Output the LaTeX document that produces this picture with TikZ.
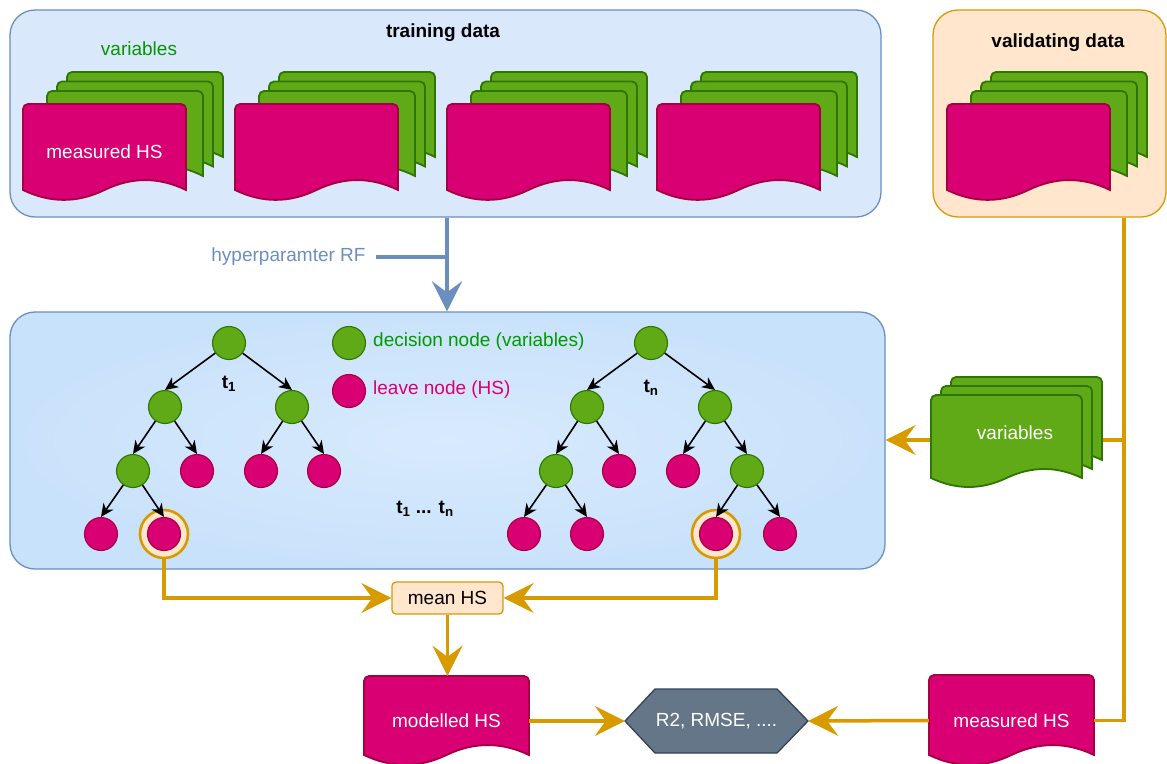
\documentclass[tikz,border=0pt]{standalone}
\usepackage{fontspec}
\setmainfont{Liberation Sans}
\usetikzlibrary{arrows.meta,calc}

\definecolor{trainfill}{HTML}{DAE8FC}
\definecolor{blueline}{HTML}{6C8EBF}
\definecolor{valfill}{HTML}{FFE6CC}
\definecolor{orangeline}{HTML}{D79B00}
\definecolor{leaffill}{HTML}{D80073}
\definecolor{leafline}{HTML}{A50040}
\definecolor{nodefill}{HTML}{60A917}
\definecolor{nodeline}{HTML}{2D7600}
\definecolor{textgreen}{HTML}{009900}
\definecolor{metricfill}{HTML}{647687}
\definecolor{metricline}{HTML}{314354}
\definecolor{treeinner}{HTML}{D8EAFD}
\definecolor{treeouter}{HTML}{C9E2FB}

% document sheet with rounded top and wavy bottom:
% left, top, width, side length, wave depth, style
\newcommand{\docsheet}[6]{%
  \draw[#6] (#1,{#2+#4}) [rounded corners=5pt] -- (#1,#2) -- ({#1+#3},#2) [sharp corners]
    -- ({#1+#3},{#2+#4})
    .. controls ({#1+5*#3/6},{#2+#4-0.6*#5}) and ({#1+2*#3/3},{#2+#4-0.6*#5}) .. ({#1+#3/2},{#2+#4})
    .. controls ({#1+#3/3},{#2+#4+0.6*#5}) and ({#1+#3/6},{#2+#4+0.6*#5}) .. (#1,{#2+#4}) -- cycle;}

% three green variable sheets behind one HS sheet; left and top of the HS sheet
\newcommand{\datastack}[2]{%
  \docsheet{#1+44}{#2-32}{156}{85}{22}{greensheet}
  \docsheet{#1+34}{#2-22.5}{156}{85}{22}{greensheet}
  \docsheet{#1+24}{#2-13}{156}{85}{22}{greensheet}
  \docsheet{#1}{#2}{163}{86}{22}{pinksheet}}

\tikzset{
  txt/.style={font=\fontsize{19}{22}\selectfont, inner sep=0pt},
  boldtxt/.style={font=\fontsize{19}{22}\selectfont\bfseries, inner sep=0pt},
  panel/.style={rounded corners=25pt, line width=1.3pt},
  greensheet/.style={fill=nodefill, draw=nodeline, line width=1.8pt},
  pinksheet/.style={fill=leaffill, draw=leafline, line width=1.8pt},
  decision/.style={circle, minimum size=33pt, inner sep=0pt, fill=nodefill, draw=nodeline, line width=1.1pt},
  leaf/.style={circle, minimum size=33pt, inner sep=0pt, fill=leaffill, draw=leafline, line width=1.1pt},
  pick/.style={circle, minimum size=48pt, inner sep=0pt, fill=valfill, draw=orangeline, line width=2.6pt},
  branch/.style={-{Stealth[length=13pt,width=12pt,inset=4pt]}, line width=1.6pt, black},
  flow/.style={draw=orangeline, line width=3.5pt},
  flowarrow/.style={flow, -{Stealth[length=30pt,width=30pt,inset=11pt]}},
  hyperflow/.style={draw=blueline, line width=4pt},
  hexagon/.style={fill=metricfill, draw=metricline, line width=1.3pt},
}

\begin{document}
\begin{tikzpicture}[x=1pt,y=-1pt]
\useasboundingbox (0,0) rectangle (1167,763);

% ---------- training and validating data ----------
\node[panel, fill=trainfill, draw=blueline, minimum width=871pt, minimum height=207pt] (train) at (445.5,113.5) {};
\node[panel, fill=valfill, draw=orangeline, minimum width=233pt, minimum height=207pt] (val) at (1049.5,113.5) {};
\node[boldtxt] (traintitle) at (443,33) {training data};
\node[boldtxt] (valtitle) at (1058,43) {validating data};
\node[txt, text=textgreen] (varlabel) at (139,49) {variables};

\datastack{23}{104}
\datastack{235}{104}
\datastack{447}{104}
\datastack{657}{104}
\datastack{947}{104}
\node[txt, text=white] (trainhs) at (104.5,152) {measured HS};

% ---------- random forest ----------
\node[panel, draw=blueline, inner color=treeinner, outer color=treeouter,
      minimum width=875pt, minimum height=257pt] (forest) at (447.5,440.5) {};

\node[txt, text=blueline] (hyper) at (288.5,257) {hyperparamter RF};
\coordinate (hx) at (447,257);
\draw[hyperflow] ($(hyper.east)+(10,0)$) -- (hx);
\draw[hyperflow, -{Stealth[length=30pt,width=30pt,inset=11pt]}] (train.south -| hx) -- (forest.north -| hx);

% legend
\node[decision] (legdec) at (349,343) {};
\node[txt, text=textgreen, anchor=west] (legdectxt) at (373,342) {decision node (variables)};
\node[leaf] (legleaf) at (349,391) {};
\node[txt, text=leaffill, anchor=west] (legleaftxt) at (373,390) {leave node (HS)};

% first tree
\node[decision] (a0) at (229,343) {};
\node[decision] (a1) at (165,407) {};
\node[decision] (a2) at (292,407) {};
\node[decision] (a3) at (133,471) {};
\node[leaf] (a4) at (197,471) {};
\node[leaf] (a5) at (261,471) {};
\node[leaf] (a6) at (324,471) {};
\node[leaf] (a7) at (101,534) {};
\node[pick] (r1) at (164,534) {};
\node[leaf] (a8) at (164,534) {};
\foreach \p/\c in {a0/a1,a0/a2,a1/a3,a1/a4,a2/a5,a2/a6,a3/a7,a3/a8}
  \draw[branch] (\p) -- (\c.north);
\node[boldtxt] (t1) at (229,384) {t\textsubscript{1}};

% last tree
\node[decision] (b0) at (651,343) {};
\node[decision] (b1) at (587,407) {};
\node[decision] (b2) at (715,407) {};
\node[decision] (b3) at (556,471) {};
\node[leaf] (b4) at (619,471) {};
\node[leaf] (b5) at (683,471) {};
\node[decision] (b6) at (747,471) {};
\node[leaf] (b7) at (524,534) {};
\node[leaf] (b8) at (587,534) {};
\node[pick] (r2) at (716,534) {};
\node[leaf] (b9) at (716,534) {};
\node[leaf] (b10) at (780,534) {};
\foreach \p/\c in {b0/b1,b0/b2,b1/b3,b1/b4,b2/b5,b2/b6,b3/b7,b3/b8,b6/b9,b6/b10}
  \draw[branch] (\p) -- (\c.north);
\node[boldtxt] (tn) at (651,388) {t\textsubscript{n}};

\node[boldtxt] (tall) at (425,509) {t\textsubscript{1} ... t\textsubscript{n}};

% ---------- aggregation and evaluation ----------
\node[txt, fill=valfill, draw=orangeline, line width=1.3pt, rounded corners=4pt,
      minimum width=111pt, minimum height=32pt] (mean) at (447.5,598) {mean HS};

\docsheet{364}{676}{165}{79}{22}{pinksheet}
\node[txt, text=white, minimum width=165pt, minimum height=90pt] (modelled) at (446.5,721) {modelled HS};

\docsheet{929}{675}{165}{80}{22}{pinksheet}
\node[txt, text=white, minimum width=165pt, minimum height=91pt] (measured) at (1011.5,720.5) {measured HS};

\draw[hexagon] (625,721) -- (655,689) -- (777,689) -- (808,721) -- (777,753) -- (655,753) -- cycle;
\node[txt, text=white, minimum width=183pt, minimum height=64pt] (metrics) at (716.5,721) {R2, RMSE, ....};

\draw[flowarrow] (r1.south) |- (mean.west);
\draw[flowarrow] (r2.south) |- (mean.east);
\draw[flowarrow] (mean.south) -- (mean.south |- modelled.north);
\draw[flowarrow] (modelled.east) -- (metrics.west);
\draw[flowarrow] (measured.west) -- (metrics.east);

\coordinate (vx) at (1124,440);
\draw[flow] (val.south -| vx) |- (measured.east);
\draw[flowarrow] (vx) -- (vx -| forest.east);

% validating variables passed to the forest
\docsheet{951}{377}{151}{83}{20}{greensheet}
\docsheet{941}{386}{151}{83}{20}{greensheet}
\docsheet{931}{395}{151}{83}{20}{greensheet}
\node[txt, text=white] (vars) at (1015,433) {variables};
\end{tikzpicture}
\end{document}
